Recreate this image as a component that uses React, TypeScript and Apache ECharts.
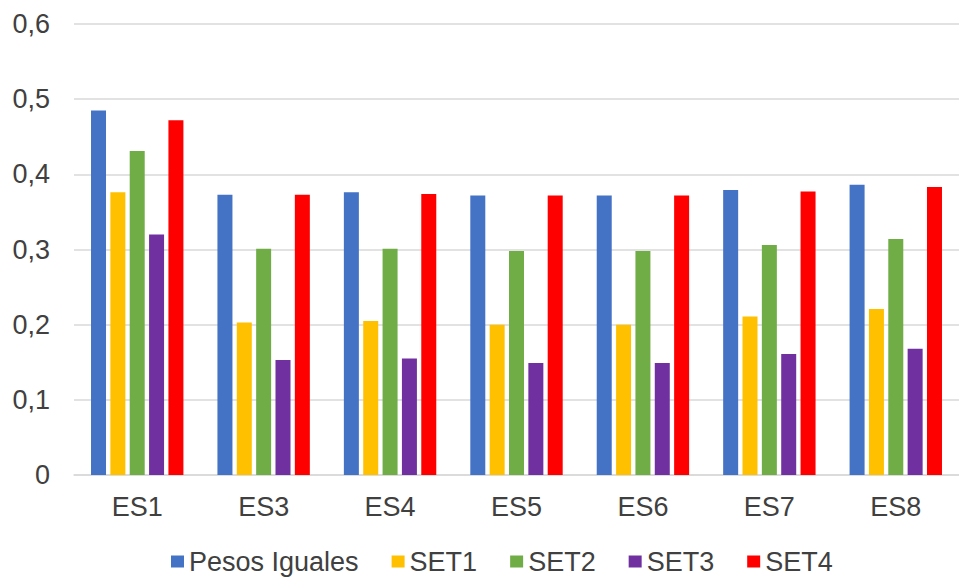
import React, { useEffect, useRef } from "react";
import * as echarts from "echarts";

const categories = ["ES1", "ES3", "ES4", "ES5", "ES6", "ES7", "ES8"];
const seriesNames = ["Pesos Iguales", "SET1", "SET2", "SET3", "SET4"];
const pesosIguales = [0.485, 0.373, 0.376, 0.372, 0.372, 0.379, 0.386];
const set1 = [0.376, 0.203, 0.205, 0.2, 0.2, 0.211, 0.221];
const set2 = [0.431, 0.301, 0.301, 0.298, 0.298, 0.306, 0.314];
const set3 = [0.32, 0.153, 0.155, 0.149, 0.149, 0.161, 0.168];
const set4 = [0.472, 0.373, 0.374, 0.372, 0.372, 0.377, 0.383];
const colors = ["#4472C4", "#FFC000", "#70AD47", "#7030A0", "#FF0000"];

const FONT = "'Liberation Sans', Arial, sans-serif";
const TEXT_COLOR = "#404040";

export default function App() {
  const ref = useRef<HTMLDivElement>(null);

  useEffect(() => {
    if (!ref.current) return;
    const chart = echarts.init(ref.current, undefined, { renderer: "svg" });
    const values = [pesosIguales, set1, set2, set3, set4];
    chart.setOption({
      animation: false,
      backgroundColor: "#ffffff",
      textStyle: { fontFamily: FONT },
      color: colors,
      grid: { left: 74, right: -13, top: 24, bottom: 106, containLabel: false },
      legend: {
        top: 543,
        left: 166,
        itemWidth: 13,
        itemHeight: 12,
        itemGap: 33,
        icon: "rect",
        textStyle: { fontSize: 27, color: TEXT_COLOR, fontFamily: FONT },
        data: seriesNames,
      },
      xAxis: {
        type: "category",
        data: categories,
        axisLine: { lineStyle: { color: "#d9d9d9", width: 1.5 } },
        axisTick: { show: false },
        axisLabel: { fontSize: 27, color: TEXT_COLOR, margin: 18, fontFamily: FONT },
      },
      yAxis: {
        type: "value",
        min: 0,
        max: 0.6,
        interval: 0.1,
        axisLine: { show: false },
        axisTick: { show: false },
        splitLine: { lineStyle: { color: "#d9d9d9", width: 1.5 } },
        axisLabel: {
          fontSize: 27,
          color: TEXT_COLOR,
          margin: 24,
          fontFamily: FONT,
          formatter: (v: number) => (Math.round(v * 10) / 10).toString().replace(".", ","),
        },
      },
      series: seriesNames.map((name, i) => ({
        name,
        type: "bar",
        data: values[i],
        barWidth: 15,
        barGap: "29%",
        itemStyle: { color: colors[i] },
      })),
    });
    return () => chart.dispose();
  }, []);

  return (
    <div
      ref={ref}
      style={{ position: "fixed", left: 0, top: 0, width: 959, height: 581 }}
    />
  );
}
